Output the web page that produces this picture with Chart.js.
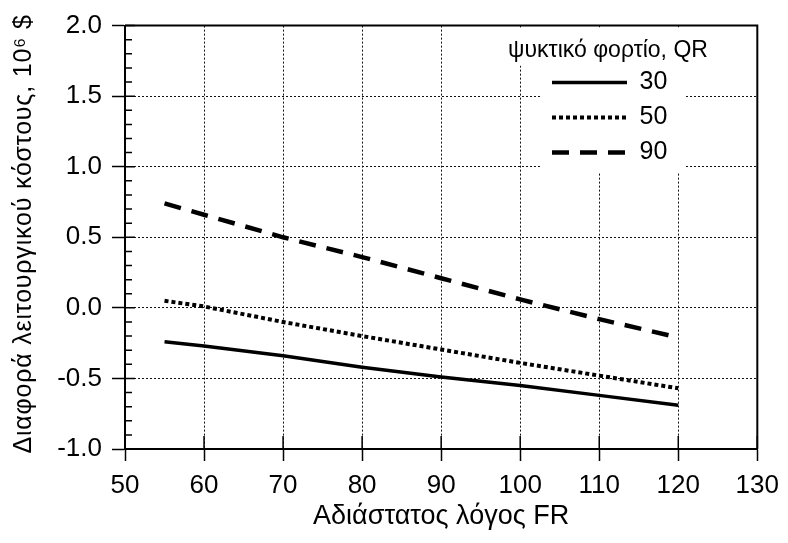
<!DOCTYPE html>
<html>
<head>
<meta charset="utf-8">
<script src="https://cdn.jsdelivr.net/npm/chart.js@4"></script>
<style>
  html, body { margin: 0; background: #fff; }
  #wrap { width: 788px; height: 543px; }
</style>
</head>
<body>
<div id="wrap"><canvas id="chart"></canvas></div>
<script>
// Values
const frRatio = [55, 60, 70, 80, 90, 100, 110, 120];
const qr30 = [-0.24, -0.27, -0.34, -0.42, -0.49, -0.55, -0.62, -0.69];
const qr50 = [0.05, 0.01, -0.10, -0.20, -0.295, -0.39, -0.48, -0.57];
const qr90 = [0.74, 0.66, 0.50, 0.36, 0.21, 0.06, -0.08, -0.21];
const seriesLabels = ['30', '50', '90'];

const X_TITLE = 'Αδιάστατος λόγος FR';
const Y_TITLE = 'Διαφορά λειτουργικού κόστους, 10⁶ $';
const LEGEND_TITLE = 'ψυκτικό φορτίο, QR';
const FONT = "'Liberation Sans', Arial, Helvetica, sans-serif";

Chart.defaults.font.family = FONT;
Chart.defaults.color = '#000';

/** Pair x/y arrays into points. */
function pts(ys) {
  return ys.map((y, i) => ({ x: frRatio[i], y }));
}

function ds(label, ys, dash, width) {
  return {
    label, data: pts(ys), borderColor: '#000', backgroundColor: '#000',
    borderWidth: width, borderDash: dash, pointRadius: 0, tension: 0, fill: false,
  };
}

// Legend placement, white patches behind it, frame and inner tick marks
const paper = {
  id: 'paper',
  afterLayout(chart) {
    const l = chart.legend;
    l.left = 542; l.width = 132; l.right = 730;
    l.top = chart.chartArea.top; l.bottom = l.top + 300;
  },
  beforeDatasetsDraw(chart) {
    const { ctx, legend: l, chartArea: a } = chart;
    ctx.save();
    ctx.fillStyle = '#fff';
    ctx.font = '23px ' + FONT;
    const tw = ctx.measureText(LEGEND_TITLE).width;
    const tc = l.left + l.width / 2;
    ctx.fillRect(tc - tw / 2 - 5, a.top + 2, tw + 10, 38);
    ctx.fillRect(l.left - 2, a.top + 2, 144, 145);
    ctx.restore();
    l._draw();
  },
  afterDraw(chart) {
    const { ctx, chartArea: a, scales: { x, y } } = chart;
    ctx.save();
    ctx.strokeStyle = '#000';
    ctx.lineWidth = 2;
    ctx.beginPath();
    ctx.moveTo(a.left, a.top); ctx.lineTo(a.right, a.top); ctx.lineTo(a.right, a.bottom);
    ctx.stroke();
    ctx.lineWidth = 1.5;
    ctx.beginPath();
    x.ticks.forEach(t => {
      const px = x.getPixelForValue(t.value);
      ctx.moveTo(px, a.bottom); ctx.lineTo(px, a.bottom - 13);
    });
    for (let v = -10; v <= 20; v++) {
      const py = y.getPixelForValue(v / 10);
      ctx.moveTo(a.left, py); ctx.lineTo(a.left + (v % 5 === 0 ? 10 : 7), py);
    }
    ctx.stroke();
    // y title is longer than the plot height, so draw it here
    ctx.translate(24, 234);
    ctx.rotate(-Math.PI / 2);
    ctx.font = '25px ' + FONT;
    ctx.letterSpacing = '0.8px';
    ctx.fillStyle = '#000';
    ctx.textAlign = 'center';
    ctx.textBaseline = 'middle';
    ctx.fillText(Y_TITLE, 0, 0);
    ctx.restore();
  },
};

new Chart(document.getElementById('chart'), {
  type: 'line',
  data: {
    datasets: [
      ds(seriesLabels[0], qr30, [], 3.5),
      ds(seriesLabels[1], qr50, [4, 3], 4),
      ds(seriesLabels[2], qr90, [17, 11], 4.5),
    ],
  },
  options: {
    animation: false, responsive: true, maintainAspectRatio: false,
    layout: { padding: { left: 0, top: 25, right: 28, bottom: 0 } },
    plugins: {
      tooltip: { enabled: false },
      legend: {
        position: 'chartArea', align: 'start',
        title: { display: true, text: LEGEND_TITLE, font: { size: 23, lineHeight: 1 }, padding: { top: 13.5, bottom: -2 } },
        labels: {
          usePointStyle: true, pointStyle: 'line', pointStyleWidth: 75,
          font: { size: 25 }, padding: 10, color: '#000',
          generateLabels: chart => Chart.defaults.plugins.legend.labels.generateLabels(chart).map((it, i) => {
            const d = chart.data.datasets[i];
            return { ...it, lineDash: d.borderDash, lineWidth: d.borderWidth, pointStyle: 'line', strokeStyle: '#000' };
          }),
        },
      },
    },
    scales: {
      x: {
        type: 'linear', min: 50, max: 130,
        ticks: { stepSize: 10, font: { size: 26 }, padding: 9, maxRotation: 0 },
        grid: { color: '#111', lineWidth: 1, tickBorderDash: [], tickLength: 12, tickWidth: 1.5, tickColor: '#000' },
        border: { color: '#000', width: 2, dash: [2, 2] },
        title: { display: true, text: X_TITLE, font: { size: 27 }, padding: { top: 0, bottom: 10 } },
        afterFit: s => { s.height = 94; },
      },
      y: {
        min: -1, max: 2,
        ticks: { stepSize: 0.5, font: { size: 26 }, padding: 10, callback: v => v.toFixed(1) },
        grid: { color: '#111', lineWidth: 1, tickBorderDash: [], tickLength: 13, tickWidth: 1.5, tickColor: '#000' },
        border: { color: '#000', width: 2, dash: [2, 2] },
        afterFit: s => { s.width = 125; },
      },
    },
  },
  plugins: [paper],
});
</script>
</body>
</html>
